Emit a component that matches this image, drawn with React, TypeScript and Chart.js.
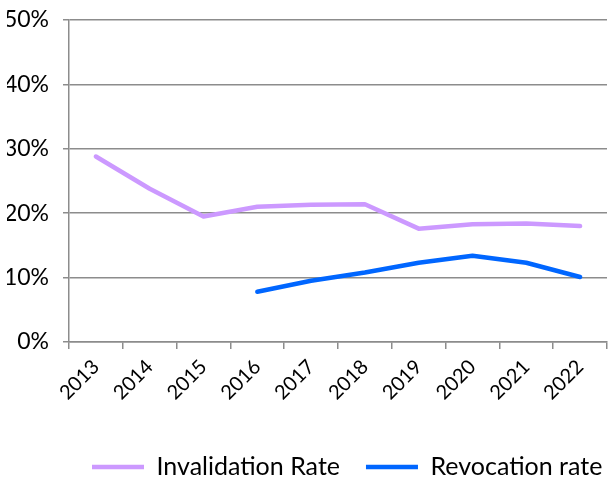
import React, { useEffect, useRef } from "react";
import { Chart, registerables } from "chart.js";

Chart.register(...registerables);

const years = ["2013", "2014", "2015", "2016", "2017", "2018", "2019", "2020", "2021", "2022"];
const invalidationRate = [28.8, 23.8, 19.5, 21.0, 21.3, 21.4, 17.6, 18.3, 18.4, 18.0];
const revocationRate = [null, null, null, 7.8, 9.5, 10.8, 12.3, 13.4, 12.3, 10.1];
const yTicks = [0, 10, 20, 30, 40, 50];

const FONT = "Lato, 'Open Sans', sans-serif";
const GRID = "#8c8c8c";
const LEGEND_FONT = 25;
const LEGEND_PAD = 26;

const legendPlacer = {
  id: "legendPlacer",
  beforeDraw(chart: any) {
    const lg = chart.legend;
    if (!lg || !lg.lineWidths) return;
    lg.top = 467 - LEGEND_PAD - LEGEND_FONT / 2;
    lg.right = 92 + lg.lineWidths[0];
  },
};

export default function App() {
  const ref = useRef<HTMLCanvasElement | null>(null);

  useEffect(() => {
    if (!ref.current) return;
    const chart = new Chart(ref.current, {
      type: "line",
      data: {
        labels: years,
        datasets: [
          {
            label: "Invalidation Rate",
            data: invalidationRate,
            borderColor: "#CC99FF",
            backgroundColor: "#CC99FF",
            borderWidth: 4.5,
            borderCapStyle: "round",
            borderJoinStyle: "round",
            pointRadius: 0,
            tension: 0,
          },
          {
            label: "Revocation rate",
            data: revocationRate,
            borderColor: "#0066FF",
            backgroundColor: "#0066FF",
            borderWidth: 4.5,
            borderCapStyle: "round",
            borderJoinStyle: "round",
            pointRadius: 0,
            tension: 0,
          },
        ],
      },
      options: {
        animation: false,
        responsive: false,
        maintainAspectRatio: false,
        layout: { padding: { left: 7, right: 1, top: 20, bottom: 0 } },
        plugins: {
          tooltip: { enabled: false },
          legend: {
            position: "bottom",
            align: "end",
            labels: {
              usePointStyle: true,
              pointStyle: "line",
              pointStyleWidth: 52,
              boxHeight: LEGEND_FONT,
              color: "#000",
              padding: LEGEND_PAD,
              font: { family: FONT, size: LEGEND_FONT },
            },
          },
        },
        scales: {
          x: {
            type: "category",
            offset: true,
            grid: {
              offset: true,
              drawOnChartArea: false,
              drawTicks: true,
              tickLength: 7,
              color: GRID,
              lineWidth: 1.5,
            },
            border: { color: GRID, width: 1.5 },
            ticks: {
              color: "#000",
              font: { family: FONT, size: 20 },
              minRotation: 45,
              maxRotation: 45,
              padding: 6,
              autoSkip: false,
            },
            afterFit: (scale: any) => {
              scale.height = 75;
              scale.paddingLeft = 0;
              scale.paddingRight = 0;
            },
          },
          y: {
            min: 0,
            max: 50,
            afterBuildTicks: (scale: any) => {
              scale.ticks = yTicks.map((v) => ({ value: v }));
            },
            afterFit: (scale: any) => {
              scale.width = 62;
              scale.paddingTop = 0;
              scale.paddingBottom = 0;
            },
            grid: {
              color: GRID,
              lineWidth: 1.5,
              drawTicks: true,
              tickLength: 6,
            },
            border: { color: GRID, width: 1.5 },
            ticks: {
              color: "#000",
              font: { family: FONT, size: 23 },
              padding: 14,
              callback: (v: any) => v + "%",
            },
          },
        },
      },
      plugins: [legendPlacer],
    });
    return () => chart.destroy();
  }, []);

  return (
    <div style={{ position: "absolute", left: 0, top: 0, width: 608, height: 478, background: "#fff" }}>
      <canvas ref={ref} width={608} height={478} style={{ width: 608, height: 478 }} />
    </div>
  );
}
